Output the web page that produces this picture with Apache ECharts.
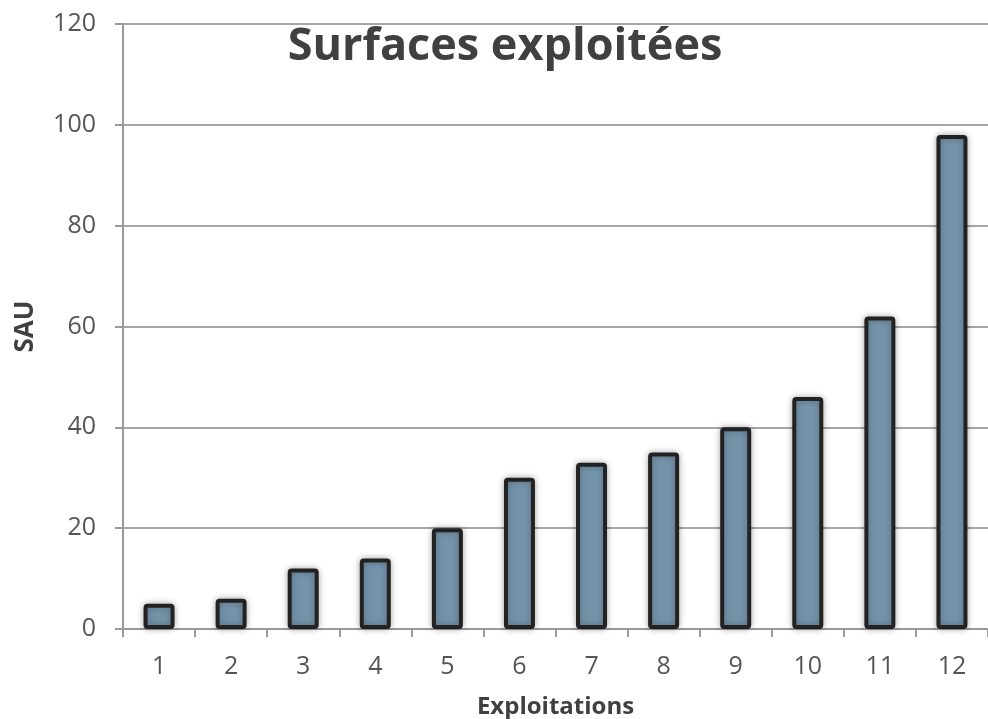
<!DOCTYPE html>
<html><head><meta charset="utf-8">
<script src="https://cdn.jsdelivr.net/npm/echarts@6/dist/echarts.min.js"></script>
<style>html,body{margin:0;padding:0;background:#fff}#c{width:988px;height:719px}</style>
</head><body><div id="c"></div>
<script>
const categories = ['1','2','3','4','5','6','7','8','9','10','11','12'];
const sau = [5, 6, 12, 14, 20, 30, 33, 35, 40, 46, 62, 98];
const yTicks = [0, 20, 40, 60, 80, 100, 120];

const chart = echarts.init(document.getElementById('c'));
const font = '"Open Sans", "Noto Sans", sans-serif';
chart.setOption({
  animation: false,
  title: {
    text: 'Surfaces exploitées', left: 500, top: 20, textAlign: 'center',
    textStyle: { fontFamily: font, fontSize: 45, fontWeight: 'bold', color: '#404040' }
  },
  grid: { left: 123, right: 0, top: 24, bottom: 90, containLabel: false, outerBoundsMode: 'none' },
  xAxis: {
    type: 'category', data: categories,
    name: 'Exploitations', nameLocation: 'middle', nameGap: 66,
    nameTextStyle: { fontFamily: font, fontSize: 24, fontWeight: 'bold', color: '#404040' },
    axisLine: { lineStyle: { color: '#999', width: 2 } },
    axisTick: { show: true, length: 8, lineStyle: { color: '#999', width: 2 } },
    axisLabel: { fontFamily: font, fontSize: 25, color: '#555', margin: 25 }
  },
  yAxis: {
    type: 'value', min: yTicks[0], max: yTicks[yTicks.length - 1], interval: 20,
    name: 'SAU', nameLocation: 'middle', nameGap: 84, nameRotate: 90,
    nameTextStyle: { fontFamily: font, fontSize: 26, fontWeight: 'bold', color: '#404040' },
    axisLine: { show: true, lineStyle: { color: '#999', width: 2 } },
    axisTick: { show: true, length: 8, lineStyle: { color: '#999', width: 2 } },
    axisLabel: { fontFamily: font, fontSize: 25, color: '#555', margin: 27 },
    splitLine: { lineStyle: { color: '#a6a6a6', width: 2 } }
  },
  series: [{
    type: 'bar', data: sau, barWidth: '43%',
    itemStyle: {
      color: '#7594aa', borderColor: '#222', borderWidth: 4, borderRadius: 2,
      shadowColor: 'rgba(0,0,0,0.3)', shadowBlur: 7, shadowOffsetX: 0, shadowOffsetY: 0
    }
  }]
});
</script></body></html>
